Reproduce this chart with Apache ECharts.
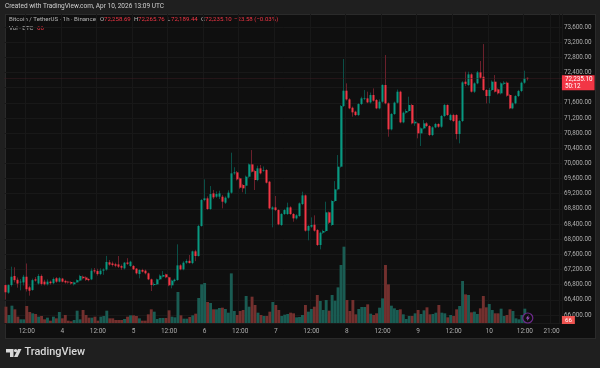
<!DOCTYPE html>
<html>
<head>
<meta charset="utf-8">
<title>BTCUSDT 1h</title>
<script src="https://cdn.jsdelivr.net/npm/echarts@6/dist/echarts.min.js"></script>
<style>
    html, body { margin: 0; padding: 0; background: #1f1f1f; }
    #panel { position: absolute; left: 5px; top: 14px; width: 589px; height: 323px; background: #0f0f0f; border: 1px solid #2a2a2a; box-sizing: content-box; }
    #chart { position: absolute; left: 0; top: 0; width: 600px; height: 368px; }
</style>
</head>
<body>
<div id="panel"></div>
<div id="chart"></div>
<script>
const opens = [
    66790, 66590, 66790, 67030, 66930, 66860, 66860, 67010, 66730, 66660,
    66940, 66830, 67030, 66880, 66810, 66880, 66840, 66970, 66880, 66960,
    66900, 66880, 66870, 66810, 66860, 66910, 67010, 66990, 66950, 66940,
    67180, 67160, 67080, 67170, 67200, 67390, 67360, 67340, 67335, 67290,
    67231, 67385, 67293, 67293, 67223, 67082, 67187, 67170, 67099, 66941,
    66792, 66809, 66941, 67011, 67073, 66994, 66783, 66897, 66923, 67310,
    67205, 67381, 67430, 67370, 67680, 67557, 68348, 69034, 69078, 68797,
    69210, 69122, 69122, 69122, 68964, 69096, 69228, 69738, 69764, 69606,
    69430, 69412, 69650, 69975, 69799, 69562, 69870, 69808, 69826, 69518,
    68788, 68840, 68770, 68374, 68665, 68665, 68840, 68665, 68550, 68612,
    68928, 69157, 68225, 68330, 68383, 68242, 67847, 68172, 68216, 68709,
    68374, 69008, 69316, 69914, 71514, 71919, 71690, 71470, 71365, 71277,
    71567, 71700, 71717, 71611, 71805, 71673, 71453, 71629, 72069, 71585,
    70899, 71304, 71603, 71893, 71084, 71339, 71383, 71541, 71057, 71057,
    70793, 70925, 71057, 70987, 70749, 70952, 71040, 70969, 71251, 71541,
    71145, 71277, 71277, 70776, 71119, 72157, 72069, 72350, 71893, 72113,
    72403, 72288, 71937, 71778, 71937, 72157, 71954, 71849, 72100, 72130,
    71805, 71453, 71585, 71778, 71910, 72130, 72258.69
];
const highs = [
    66810, 66810, 67275, 67260, 66990, 66950, 67060, 67360, 66770, 66960,
    67000, 67080, 67070, 66930, 66940, 66910, 66990, 67000, 67000, 66980,
    66930, 66900, 66890, 66880, 66940, 67060, 67040, 67020, 66970, 67230,
    67240, 67220, 67230, 67230, 67560, 67450, 67410, 67380, 67557, 67330,
    67400, 67500, 67430, 67320, 67240, 67210, 67220, 67200, 67120, 66960,
    66860, 66960, 67070, 67160, 67090, 67010, 66930, 66960, 67865, 67340,
    67420, 67470, 67583, 67700, 67720, 68380, 69060, 69580, 69130, 69403,
    69300, 69260, 69280, 69170, 69130, 69290, 70283, 69900, 69800, 69630,
    69460, 69680, 70000, 70353, 69830, 69940, 69960, 69920, 69850, 69540,
    68870, 69140, 68790, 68690, 68800, 68964, 68870, 68690, 68660, 68970,
    69254, 69180, 68370, 68577, 68630, 68270, 68200, 68250, 68990, 68730,
    69030, 69535, 70221, 71540, 72755, 72113, 71720, 71500, 71390, 71590,
    71760, 71937, 71893, 71870, 71980, 71700, 71690, 72090, 72860, 71610,
    71330, 71630, 71950, 71920, 71370, 71430, 71761, 71570, 71145, 71080,
    70950, 71145, 71090, 71010, 70980, 71070, 71060, 71280, 71570, 71560,
    71310, 71310, 71300, 71150, 72170, 72420, 72420, 72380, 72140, 72440,
    72702, 73150, 71960, 71990, 72190, 72332, 71980, 72140, 72170, 72160,
    71830, 71610, 71800, 71940, 72160, 72447, 72265.76
];
const lows = [
    66415, 66560, 66750, 66860, 66720, 66650, 66780, 66620, 66510, 66640,
    66880, 66800, 66780, 66780, 66780, 66800, 66810, 66850, 66860, 66860,
    66830, 66830, 66800, 66780, 66850, 66890, 66940, 66900, 66890, 66920,
    67100, 67040, 67050, 67060, 67170, 67300, 67280, 67260, 67240, 67190,
    67200, 67320, 67270, 67190, 67070, 66968, 67120, 67070, 66920, 66633,
    66760, 66790, 66920, 66990, 66970, 66760, 66704, 66860, 66900, 67180,
    67180, 67350, 67360, 67340, 67420, 67540, 68330, 69000, 68770, 68770,
    69060, 69090, 69060, 68814, 68930, 69070, 69200, 69700, 69550, 69330,
    69240, 69192, 69620, 69760, 69298, 69530, 69710, 69780, 69470, 68790,
    68313, 68740, 68370, 68350, 68640, 68640, 68640, 68462, 68520, 68590,
    68900, 68200, 67970, 68300, 68200, 67820, 67732, 68140, 68190, 68400,
    68350, 68980, 69290, 69890, 71490, 71660, 71430, 71233, 71250, 71250,
    71540, 71670, 71590, 71580, 71630, 71430, 71427, 71600, 71560, 70705,
    70870, 71280, 71580, 71060, 71060, 71310, 71360, 71030, 70990, 70662,
    70459, 70900, 70960, 70720, 70720, 70930, 70940, 70940, 71220, 71250,
    71120, 71090, 70635, 70530, 71090, 72040, 72040, 71870, 71860, 72090,
    72230, 71910, 71585, 71585, 71910, 71870, 71820, 71820, 72070, 71760,
    71430, 71430, 71560, 71750, 71880, 72100, 72189.44
];
const closes = [
    66600, 66790, 67010, 66920, 66830, 66880, 67010, 66680, 66640, 66920,
    66910, 67030, 66820, 66810, 66880, 66840, 66950, 66880, 66970, 66880,
    66860, 66860, 66830, 66860, 66920, 67030, 66970, 66930, 66920, 67170,
    67150, 67080, 67170, 67200, 67400, 67330, 67320, 67300, 67275, 67250,
    67381, 67350, 67407, 67205, 67100, 67187, 67143, 67100, 66941, 66792,
    66818, 66941, 67038, 67055, 66994, 66783, 66906, 66932, 67310, 67205,
    67381, 67425, 67370, 67680, 67557, 68348, 69034, 69078, 68797, 69192,
    69104, 69192, 69210, 68990, 69096, 69228, 69738, 69764, 69579, 69360,
    69342, 69650, 69975, 69782, 69562, 69870, 69738, 69826, 69491, 68814,
    68840, 68770, 68392, 68665, 68770, 68840, 68665, 68550, 68630, 68946,
    69157, 68225, 68348, 68374, 68225, 67847, 68172, 68216, 68709, 68436,
    69008, 69316, 69914, 71514, 71919, 71690, 71453, 71348, 71277, 71567,
    71717, 71717, 71611, 71805, 71655, 71453, 71629, 72069, 71585, 70899,
    71304, 71603, 71893, 71084, 71339, 71383, 71541, 71057, 71100, 70793,
    70925, 71057, 70987, 70749, 70952, 71040, 70969, 71251, 71541, 71277,
    71277, 71119, 70776, 71119, 72139, 72100, 72350, 71893, 72113, 72403,
    72262, 71937, 71778, 71937, 72157, 71893, 71849, 72113, 72130, 71787,
    71453, 71585, 71778, 71910, 72130, 72245, 72235.10
];
const volumes = [
    359, 176, 381, 301, 139, 81, 81, 374, 242, 213,
    198, 139, 154, 81, 117, 51, 139, 103, 242, 103,
    176, 51, 37, 66, 271, 81, 286, 176, 117, 117,
    139, 51, 139, 154, 271, 103, 103, 66, 66, 66,
    88, 139, 169, 169, 154, 103, 51, 51, 191, 301,
    249, 88, 110, 110, 110, 279, 139, 125, 682, 169,
    95, 95, 132, 169, 205, 550, 851, 880, 462, 440,
    301, 301, 330, 337, 308, 227, 1092, 264, 176, 264,
    286, 594, 359, 579, 396, 227, 176, 154, 154, 249,
    462, 396, 286, 154, 183, 198, 227, 213, 125, 132,
    176, 396, 249, 308, 359, 616, 484, 286, 506, 271,
    616, 491, 784, 1276, 1679, 506, 264, 506, 191, 308,
    352, 352, 411, 205, 176, 213, 337, 542, 1276, 850,
    381, 323, 286, 301, 191, 88, 154, 154, 213, 286,
    198, 279, 345, 191, 198, 227, 396, 227, 213, 125,
    176, 154, 301, 374, 924, 630, 616, 235, 249, 198,
    323, 594, 345, 418, 286, 213, 213, 315, 154, 176,
    301, 264, 103, 81, 176, 315, 66
];
const lastPrice = 72235.10;
const lastVolume = 66;
const countdown = '50:12';

// hourly slots, first candle is Apr 3 05:00, axis runs on past the last candle
const categories = [];
const slotCount = 188;
for (let i = 0; i < slotCount; i++) {
    const t = 5 + i;
    categories.push({ day: 3 + Math.floor(t / 24), hour: t % 24 });
}
const categoryNames = categories.map(c => c.day + ' ' + c.hour + ':00');
const futureTickIndex = 184;

function isTick(index) {
    const c = categories[index];
    return c.hour === 12 && index < 177 || c.hour === 0 || index === futureTickIndex;
}
function tickLabel(index) {
    const c = categories[index];
    if (c.hour === 0) return String(c.day);
    return c.hour + ':00';
}

const UP = '#089981';
const DOWN = '#f23645';
const UP_WICK = '#0a4f47';
const DOWN_WICK = '#6a202b';
const UP_VOL = '#1a5c53';
const DOWN_VOL = '#73302e';
const TEXT = '#aeaeae';
const GRID = '#181818';
const FONT = 'Roboto';

const isUp = opens.map((o, i) => closes[i] >= o);

// wick layer uses the dim colour, the body layer goes on top
const wickData = opens.map((o, i) => [o, closes[i], lows[i], highs[i]]);
const bodyData = opens.map((o, i) => [o, closes[i], Math.min(o, closes[i]), Math.max(o, closes[i])]);
const volumeData = volumes.map((v, i) => ({
    value: v,
    itemStyle: { color: isUp[i] ? UP_VOL : DOWN_VOL },
}));

// header texts
const legendPieces = [
    { x: 9, y: 20, text: 'Bitcoin / TetherUS · 1h · Binance', fill: '#b8b8b8' },
    { x: 100, y: 20, text: 'O', fill: '#b8b8b8' },
    { x: 104, y: 20, text: '72,258.69', fill: DOWN },
    { x: 134, y: 20, text: 'H', fill: '#b8b8b8' },
    { x: 138, y: 20, text: '72,265.76', fill: DOWN },
    { x: 167, y: 20, text: 'L', fill: '#b8b8b8' },
    { x: 171, y: 20, text: '72,189.44', fill: DOWN },
    { x: 201, y: 20, text: 'C', fill: '#b8b8b8' },
    { x: 205, y: 20, text: '72,235.10', fill: DOWN },
    { x: 234, y: 20, text: '−23.58 (−0.03%)', fill: DOWN },
    { x: 9, y: 29, text: 'Vol · BTC', fill: '#b8b8b8' },
    { x: 37, y: 29, text: String(lastVolume), fill: DOWN },
];

const graphics = legendPieces.map(p => ({
    type: 'text',
    left: p.x,
    top: p.y - 3.5,
    silent: true,
    style: { text: p.text, fill: p.fill, font: '6.1px ' + FONT },
}));
graphics.push({
    type: 'text',
    left: 5,
    top: 3,
    style: { text: 'Created with TradingView.com, Apr 10, 2026 13:09 UTC', fill: '#d0d0d0', font: '6.5px ' + FONT },
});
// TradingView wordmark
graphics.push(
    { type: 'polygon', shape: { points: [[6, 349], [13.5, 349], [13.5, 357], [10, 357], [10, 352.4], [6, 352.4]] }, style: { fill: '#d8d8d8' } },
    { type: 'circle', shape: { cx: 15.6, cy: 350.6, r: 1.7 }, style: { fill: '#d8d8d8' } },
    { type: 'polygon', shape: { points: [[18, 349], [21.5, 349], [17.6, 357], [14, 357]] }, style: { fill: '#d8d8d8' } },
    {
        type: 'text',
        left: 24.5,
        top: 347,
        style: { text: 'TradingView', fill: '#d8d8d8', font: '500 10.9px ' + FONT },
    }
);

const chart = echarts.init(document.getElementById('chart'), null, { renderer: 'canvas' });
chart.setOption({
    animation: false,
    backgroundColor: 'transparent',
    textStyle: { fontFamily: FONT },
    graphic: graphics,
    grid: [
        { left: 4.5, width: 557.4, top: 27, height: 288 },
        { left: 4.5, width: 557.4, top: 14, height: 309 },
    ],
    xAxis: [
        {
            type: 'category',
            gridIndex: 0,
            data: categoryNames,
            axisLine: { show: false },
            axisTick: { show: false },
            axisLabel: { show: false },
            splitLine: { show: false },
        },
        {
            type: 'category',
            gridIndex: 1,
            data: categoryNames,
            axisLine: { lineStyle: { color: '#1a1a1a' } },
            axisTick: { show: false },
            axisLabel: {
                color: TEXT,
                fontSize: 6.5,
                margin: 5,
                interval: isTick,
                formatter: (value, index) => tickLabel(index),
            },
            splitLine: { show: true, interval: isTick, lineStyle: { color: GRID } },
        },
    ],
    yAxis: [
        {
            type: 'value',
            gridIndex: 0,
            position: 'right',
            min: 66000,
            max: 73600,
            interval: 400,
            axisLine: { show: false },
            axisTick: { show: false },
            axisLabel: {
                color: TEXT,
                fontSize: 6.3,
                margin: 2,
                // 72,000 sits behind the price tag in the original
                formatter: v => v === 72000 ? '' : v.toLocaleString('en-US', { minimumFractionDigits: 2 }),
            },
            splitLine: { lineStyle: { color: GRID } },
        },
        {
            type: 'value',
            gridIndex: 1,
            min: 0,
            max: 6798,
            axisLine: { show: false },
            axisTick: { show: false },
            axisLabel: { show: false },
            splitLine: { show: false },
        },
    ],
    series: [
        {
            name: 'Vol',
            type: 'bar',
            xAxisIndex: 1,
            yAxisIndex: 1,
            data: volumeData,
            barWidth: 2.9,
            z: 1,
            silent: true,
            markLine: {
                silent: true,
                symbol: 'none',
                lineStyle: { color: 'transparent' },
                label: {
                    position: 'end',
                    formatter: String(lastVolume),
                    color: '#fff',
                    fontSize: 6.2,
                    backgroundColor: '#ef5350',
                    padding: [1, 3],
                    distance: 0,
                },
                data: [{ yAxis: lastVolume }],
            },
            markPoint: {
                silent: true,
                symbol: 'circle',
                symbolSize: 10,
                itemStyle: { color: '#0f0f0f', borderColor: '#6d2a8c', borderWidth: 1.2 },
                label: { show: false },
                data: [
                    { coord: [categoryNames[176], 110] },
                    {
                        coord: [categoryNames[176], 110],
                        symbol: 'path://M6 0L1 7H4L3 12L8 5H5Z',
                        symbolSize: [4, 6],
                        itemStyle: { color: '#9a4fc0', borderWidth: 0 },
                    },
                ],
            },
        },
        {
            name: 'wicks',
            type: 'candlestick',
            data: wickData,
            barWidth: 1,
            z: 2,
            silent: true,
            itemStyle: {
                color: UP_WICK,
                color0: DOWN_WICK,
                borderColor: UP_WICK,
                borderColor0: DOWN_WICK,
                borderWidth: 1,
            },
            markLine: {
                silent: true,
                symbol: 'none',
                lineStyle: { color: '#3d1c22', type: 'dotted', width: 1 },
                label: {
                    position: 'end',
                    formatter: lastPrice.toLocaleString('en-US', { minimumFractionDigits: 2 }) + '\n' + countdown,
                    color: '#fff',
                    fontSize: 6.3,
                    lineHeight: 7.5,
                    align: 'left',
                    backgroundColor: DOWN,
                    padding: [0, 2, 0, 3],
                    distance: 0,
                    offset: [0, 4],
                },
                data: [{ yAxis: lastPrice }],
            },
        },
        {
            name: 'BTCUSDT',
            type: 'candlestick',
            data: bodyData,
            barWidth: 2.5,
            z: 3,
            silent: true,
            itemStyle: {
                color: UP,
                color0: DOWN,
                borderColor: UP,
                borderColor0: DOWN,
                borderWidth: 0,
            },
        },
    ],
});
</script>
</body>
</html>
